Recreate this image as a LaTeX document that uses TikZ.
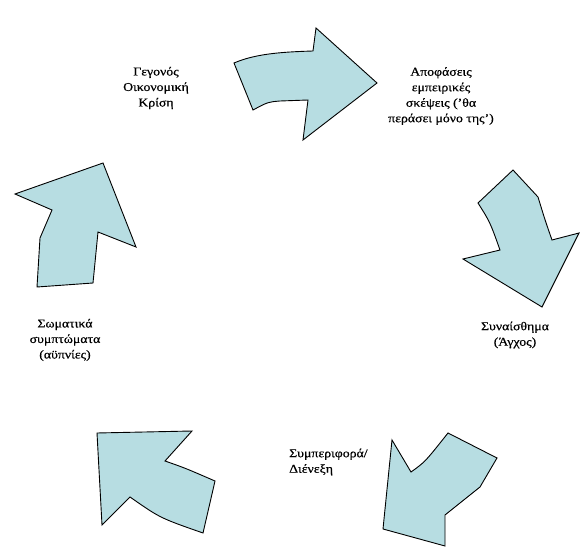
\documentclass[tikz,border=0pt]{standalone}
\usepackage{fontspec}
\setmainfont{Liberation Serif}[FakeStretch=1.15, FakeBold=0.5]
\usepackage{xcolor}
\usetikzlibrary{positioning}

\definecolor{arrowblue}{RGB}{183,221,226}

\begin{document}
\begin{tikzpicture}[x=1pt, y=-1pt,
    blockarrow/.style={draw=black, fill=arrowblue, line width=0.9pt, line join=miter},
    cyclelabel/.style={align=center, font=\fontsize{12}{15.5}\selectfont, inner sep=0pt}]
    \useasboundingbox (0,0) rectangle (582,548);

    % Labels of the cycle
    \node[cyclelabel] (event) at (156,88) {Γεγονός\\Οικονομική\\Κρίση};
    \node[cyclelabel] (thought) at (441,96) {Αποφάσεις\\εμπειρικές\\σκέψεις ('θα\\περάσει μόνο της')};
    \node[cyclelabel] (feeling) at (515,335) {Συναίσθημα\\(Άγχος)};
    \node[cyclelabel, align=left, anchor=west] (behaviour) at (289,462) {Συμπεριφορά/\\Διένεξη};
    \node[cyclelabel] (body) at (65,340) {Σωματικά\\συμπτώματα\\(αϋπνίες)};

    % Top arrow (event -> thought)
    \draw[blockarrow] (234,63) .. controls (255,54) and (280,52) .. (313,51)
        -- (316,28) -- (377,83) -- (303,140) -- (308,100) -- (280,101)
        .. controls (268,102) .. (253,110) -- cycle;

    % Right arrow (thought -> feeling)
    \draw[blockarrow] (513,170) -- (478,203) .. controls (490,222) .. (500,250)
        -- (463,259) -- (542,307) -- (579,233) -- (552,240)
        .. controls (545,220) .. (538,197) -- cycle;

    % Bottom right arrow (feeling -> behaviour)
    \draw[blockarrow] (448,433) -- (497,458) -- (480,487) -- (445,515)
        -- (445,546) -- (383,529) -- (392,440) -- (411,472)
        .. controls (425,462) .. (448,433) -- cycle;

    % Bottom left arrow (behaviour -> body)
    \draw[blockarrow] (97,433) -- (192,431) -- (165,461)
        .. controls (185,468) .. (215,481) -- (203,533)
        .. controls (160,518) .. (130,497) -- (102,525) -- cycle;

    % Left arrow (body -> event)
    \draw[blockarrow] (103,163) -- (15,194) -- (52,210) -- (40,238)
        -- (37,287) -- (93,283) -- (98,232) -- (136,247) -- cycle;
\end{tikzpicture}
\end{document}
